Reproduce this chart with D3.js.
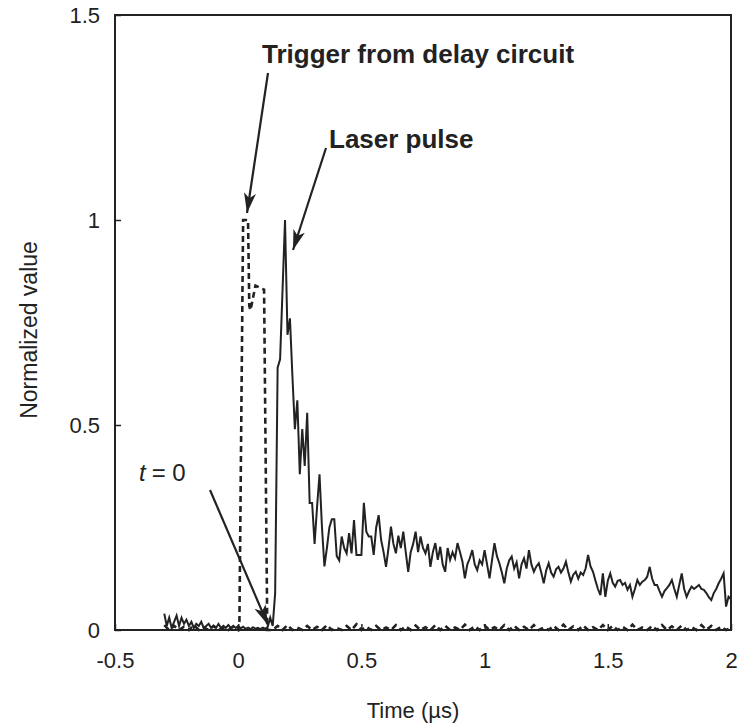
<!DOCTYPE html>
<html>
<head>
<meta charset="utf-8">
<script src="https://cdn.jsdelivr.net/npm/d3@7"></script>
<style>
  body { margin: 0; background: #fff; }
  text { font-family: "Liberation Sans", Arial, sans-serif; fill: #222; }
</style>
</head>
<body>
<svg id="chart" width="741" height="726"></svg>
<script>
// axis ticks
const xTicks = [-0.5, 0, 0.5, 1, 1.5, 2];
const yTicks = [0, 0.5, 1, 1.5];
const xTickLabels = ["-0.5", "0", "0.5", "1", "1.5", "2"];
const yTickLabels = ["0", "0.5", "1", "1.5"];

// laser pulse, sampled every 0.01 us starting at -0.30 us
const laserStart = -0.30, laserStep = 0.01;
const laserValues = [
  0.04, 0.01, 0.03, 0.005, 0.02, 0.035, 0.01, 0.03, 0.015, 0.025,
  0.01, 0.02, 0.005, 0.015, 0.01, 0.02, 0.005, 0.01, 0.015, 0.005,
  0.01, 0.005, 0.015, 0.005, 0.01, 0.005, 0.012, 0.005, 0.01, 0.005,
  0.01, 0.004, 0.008, 0.003, 0.006, 0.002, 0.007, 0.003, 0.005, 0.002,
  0.006, 0.003, 0.008, 0.03, 0.01, 0.09, 0.64, 0.66, 0.83, 1.0,
  0.72, 0.76, 0.62, 0.49, 0.56, 0.38, 0.49, 0.40, 0.53, 0.31,
  0.31, 0.21, 0.30, 0.38, 0.25, 0.155, 0.20, 0.25, 0.27, 0.27,
  0.18, 0.17, 0.228, 0.20, 0.187, 0.236, 0.187, 0.268, 0.183, 0.183,
  0.183, 0.31, 0.24, 0.228, 0.228, 0.183, 0.25, 0.28, 0.22, 0.19,
  0.154, 0.20, 0.252, 0.21, 0.187, 0.23, 0.20, 0.24, 0.19, 0.142,
  0.19, 0.21, 0.24, 0.19, 0.228, 0.20, 0.187, 0.21, 0.154, 0.19,
  0.212, 0.171, 0.203, 0.16, 0.142, 0.20, 0.171, 0.19, 0.175, 0.212,
  0.19, 0.167, 0.126, 0.16, 0.175, 0.195, 0.16, 0.146, 0.17, 0.16,
  0.195, 0.16, 0.126, 0.17, 0.212, 0.18, 0.163, 0.14, 0.114, 0.15,
  0.17, 0.179, 0.15, 0.165, 0.126, 0.16, 0.175, 0.15, 0.195, 0.16,
  0.142, 0.155, 0.163, 0.14, 0.114, 0.145, 0.163, 0.14, 0.13, 0.148,
  0.154, 0.14, 0.15, 0.167, 0.14, 0.118, 0.135, 0.142, 0.125, 0.14,
  0.134, 0.15, 0.183, 0.155, 0.142, 0.12, 0.10, 0.085, 0.138, 0.081,
  0.12, 0.138, 0.115, 0.106, 0.12, 0.122, 0.11, 0.115, 0.098, 0.11,
  0.081, 0.10, 0.122, 0.11, 0.118, 0.122, 0.13, 0.154, 0.125, 0.11,
  0.11, 0.095, 0.081, 0.095, 0.102, 0.11, 0.122, 0.10, 0.081, 0.11,
  0.138, 0.10, 0.081, 0.095, 0.106, 0.10, 0.105, 0.11, 0.10, 0.098,
  0.09, 0.08, 0.073, 0.09, 0.10, 0.114, 0.125, 0.138, 0.057, 0.081,
  0.075
];

// trigger from delay circuit
const trigPreStart = -0.30, trigStep = 0.02;
const trigPreValues = [0.012, 0, 0.01, 0, 0.008, 0, 0.012, 0, 0.006, 0, 0.01, 0, 0.005, 0, 0.008];
const trigPulseTime = [0.000, 0.005, 0.02, 0.04, 0.045, 0.05, 0.07, 0.105, 0.118];
const trigPulseValue = [0, 0.02, 1.0, 1.0, 0.79, 0.78, 0.84, 0.83, 0];
const trigPostStart = 0.14;
const trigPostValues = [
  0, 0.01, 0, 0.012, 0, 0.006, 0, 0.01, 0, 0.008,
  0, 0.012, 0, 0.005, 0, 0.01, 0, 0.014, 0, 0.008,
  0, 0.01, 0, 0.006, 0, 0.012, 0, 0.009, 0, 0.011,
  0, 0.007, 0, 0.012, 0, 0.01, 0, 0.006, 0, 0.013,
  0, 0.009, 0, 0.011, 0, 0.007, 0, 0.012, 0, 0.01,
  0, 0.008, 0, 0.012, 0, 0.006, 0, 0.01, 0, 0.013,
  0, 0.009, 0, 0.011, 0, 0.007, 0, 0.012, 0, 0.01,
  0, 0.008, 0, 0.013, 0, 0.006, 0, 0.01, 0, 0.012,
  0, 0.009, 0, 0.011, 0, 0.007, 0, 0.012, 0, 0.01,
  0, 0.008, 0, 0.005
];

const laser = laserValues.map((v, i) => [laserStart + i * laserStep, v]);
const trigger = [
  ...trigPreValues.map((v, i) => [trigPreStart + i * trigStep, v]),
  ...trigPulseTime.map((t, i) => [t, trigPulseValue[i]]),
  ...trigPostValues.map((v, i) => [trigPostStart + i * trigStep, v])
];

const svg = d3.select("#chart");
const plotLeft = 115, plotRight = 731, plotTop = 15, plotBottom = 630;

const x = d3.scaleLinear().domain([-0.5, 2]).range([plotLeft, plotRight]);
const y = d3.scaleLinear().domain([0, 1.5]).range([plotBottom, plotTop]);

const ink = "#222";

// frame
svg.append("rect")
  .attr("x", x(-0.5)).attr("y", y(1.5))
  .attr("width", x(2) - x(-0.5)).attr("height", y(0) - y(1.5))
  .attr("fill", "none").attr("stroke", ink).attr("stroke-width", 2);

// axes with inward ticks
const xAxis = svg.append("g")
  .attr("transform", `translate(0,${plotBottom})`)
  .call(d3.axisBottom(x).tickValues(xTicks).tickFormat((d, i) => xTickLabels[i])
    .tickSize(-6).tickPadding(22));
const yAxis = svg.append("g")
  .attr("transform", `translate(${plotLeft},0)`)
  .call(d3.axisLeft(y).tickValues(yTicks).tickFormat((d, i) => yTickLabels[i])
    .tickSize(-6).tickPadding(15));
[xAxis, yAxis].forEach(g => {
  g.select(".domain").remove();
  g.selectAll(".tick line").attr("stroke", ink).attr("stroke-width", 1.5);
  g.selectAll(".tick text").attr("font-size", 22).attr("fill", ink)
    .style("font-family", '"Liberation Sans", Arial, sans-serif');
});
yAxis.selectAll(".tick text").attr("dy", "0.36em");

// axis titles
svg.append("text")
  .attr("x", 413).attr("y", 718)
  .attr("text-anchor", "middle").attr("font-size", 22)
  .text("Time (µs)");
svg.append("text")
  .attr("transform", `translate(37,330) rotate(-90)`)
  .attr("text-anchor", "middle").attr("font-size", 23)
  .text("Normalized value");

const line = d3.line().x(d => x(d[0])).y(d => y(d[1]));

svg.append("path").datum(trigger)
  .attr("d", line)
  .attr("fill", "none").attr("stroke", ink)
  .attr("stroke-width", 2.6).attr("stroke-dasharray", "6,4");

svg.append("path").datum(laser)
  .attr("d", line)
  .attr("fill", "none").attr("stroke", ink)
  .attr("stroke-width", 2).attr("stroke-linejoin", "miter");

// annotations
svg.append("defs").append("marker")
  .attr("id", "arrow")
  .attr("markerUnits", "userSpaceOnUse")
  .attr("viewBox", "0 0 20 12")
  .attr("refX", 20).attr("refY", 6)
  .attr("markerWidth", 20).attr("markerHeight", 12)
  .attr("orient", "auto")
  .append("path").attr("d", "M0,0 L20,6 L0,12 L5,6 Z").attr("fill", ink);

const arrows = [
  [268, 73, 247, 213],
  [326, 148, 293, 250],
  [210, 490, 268, 625]
];
svg.selectAll(".arrow").data(arrows).join("line")
  .attr("class", "arrow")
  .attr("x1", d => d[0]).attr("y1", d => d[1])
  .attr("x2", d => d[2]).attr("y2", d => d[3])
  .attr("stroke", ink).attr("stroke-width", 2.2)
  .attr("marker-end", "url(#arrow)");

svg.append("text").attr("x", 262).attr("y", 63)
  .attr("font-size", 26).attr("font-weight", "bold")
  .text("Trigger from delay circuit");
svg.append("text").attr("x", 329).attr("y", 148)
  .attr("font-size", 26).attr("font-weight", "bold")
  .text("Laser pulse");

const t0 = svg.append("text").attr("x", 139).attr("y", 481).attr("font-size", 24);
t0.append("tspan").attr("font-style", "italic").text("t");
t0.append("tspan").attr("dx", 6).text("= 0");
</script>
</body>
</html>
